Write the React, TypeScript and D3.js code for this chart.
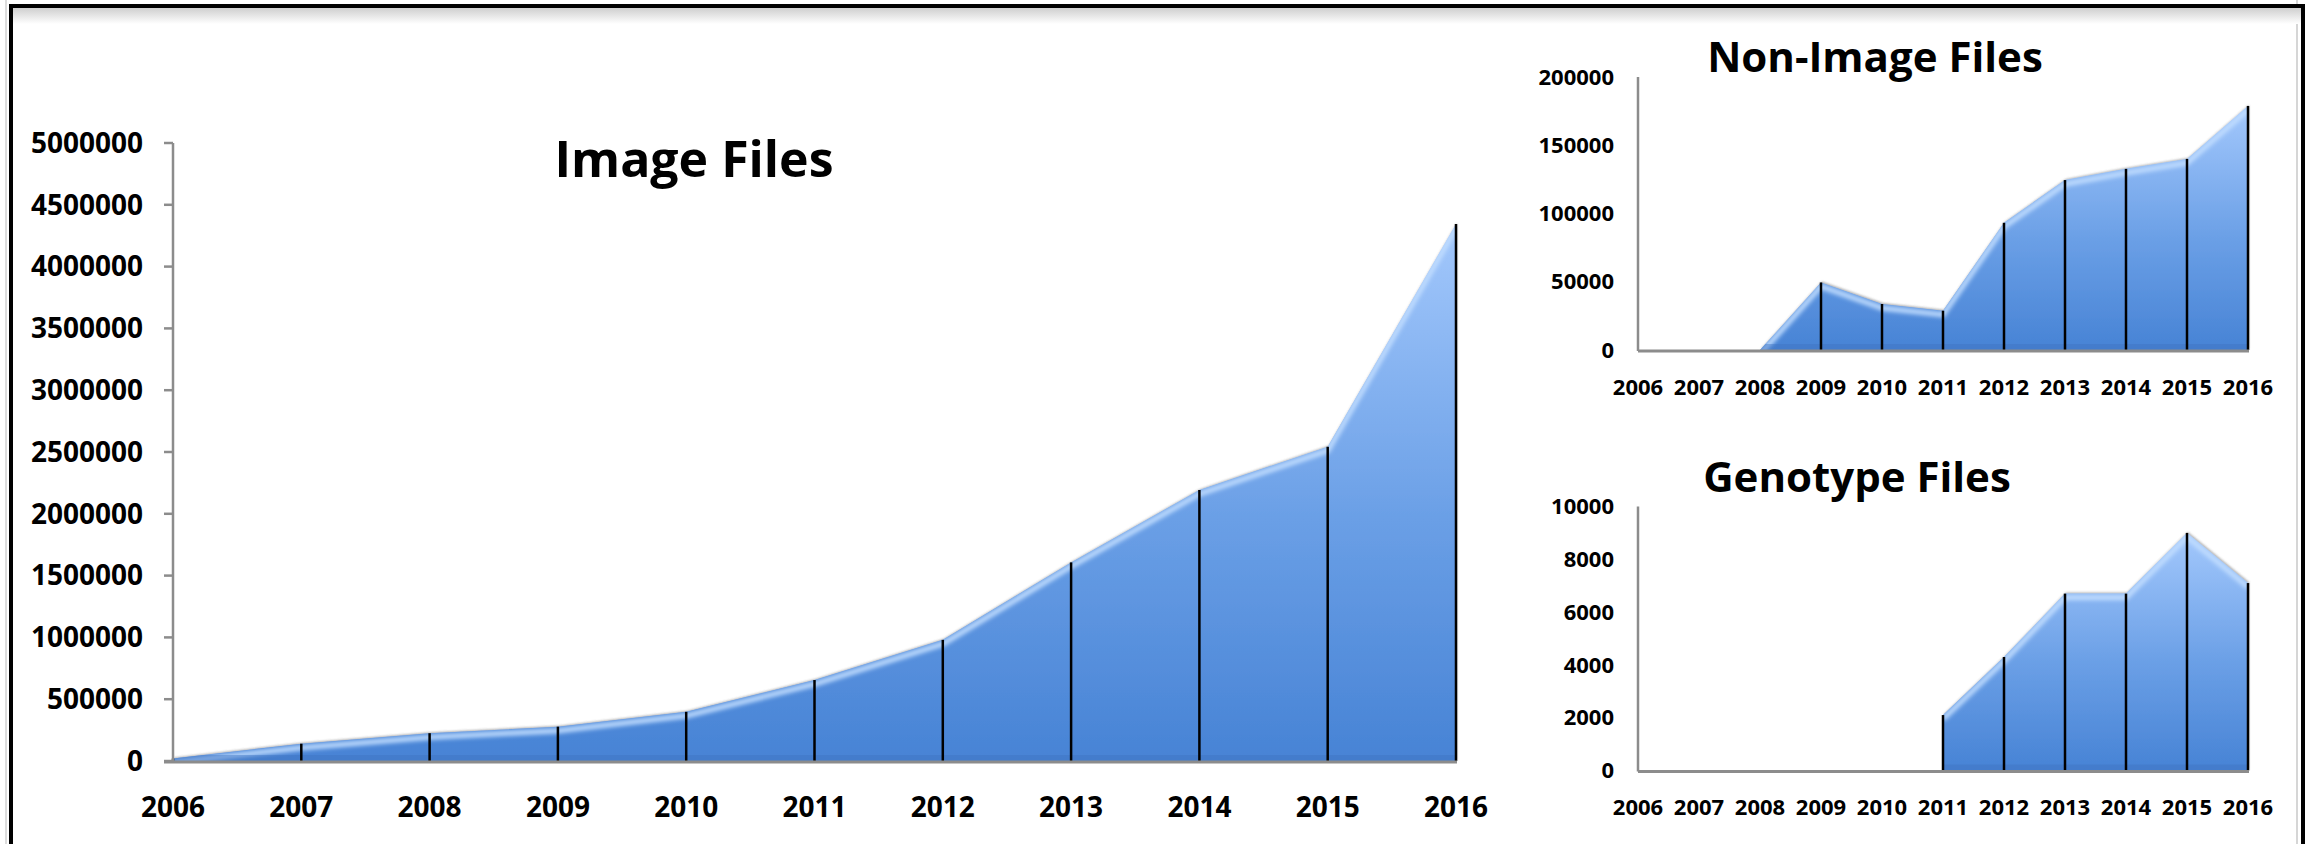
import React from 'react';
import * as d3 from 'd3';

// years on the category axis
const years = [2006, 2007, 2008, 2009, 2010, 2011, 2012, 2013, 2014, 2015, 2016];

// series values
const imageFiles: (number | null)[] = [20000, 140000, 225000, 278000, 398000, 655000, 980000, 1607000, 2193000, 2543000, 4345000];
const nonImageFiles: (number | null)[] = [0, 0, 0, 49500, 33700, 28800, 93200, 124500, 132700, 140000, 178800];
const genotypeFiles: (number | null)[] = [null, null, null, null, null, 2100, 4300, 6700, 6700, 9000, 7100];

// tick labels
const imageTicks = [0, 500000, 1000000, 1500000, 2000000, 2500000, 3000000, 3500000, 4000000, 4500000, 5000000];
const nonImageTicks = [0, 50000, 100000, 150000, 200000];
const genotypeTicks = [0, 2000, 4000, 6000, 8000, 10000];

const FONT = "'Open Sans', 'Liberation Sans', Arial, sans-serif";

interface PanelProps {
  id: string;
  title: string;
  values: (number | null)[];
  ticks: number[];
  left: number;
  right: number;
  top: number;
  bottom: number;
  titleX: number;
  titleY: number;
  titleSize: number;
  tickSize: number;
  yLabelGap: number;
  xLabelY: number;
  tickMarks: boolean;
}

const Panel = (p: PanelProps) => {
  const x = d3.scaleLinear().domain([years[0], years[years.length - 1]]).range([p.left, p.right]);
  const y = d3.scaleLinear().domain([0, d3.max(p.ticks) || 1]).range([p.bottom, p.top]);

  const pts = years.map((yr, i) => ({ yr, v: p.values[i] }));
  const area = d3.area<{ yr: number; v: number | null }>()
    .defined(d => d.v !== null)
    .x(d => x(d.yr))
    .y0(y(0))
    .y1(d => y(d.v as number));
  const line = d3.line<{ yr: number; v: number | null }>()
    .defined(d => d.v !== null)
    .x(d => x(d.yr))
    .y(d => y(d.v as number));

  const areaPath = area(pts) || '';
  const linePath = line(pts) || '';

  return (
    <g>
      <defs>
        <linearGradient id={`grad-${p.id}`} x1="0" y1="0" x2="0" y2="1">
          <stop offset="0%" stopColor="#a3c8fc" />
          <stop offset="55%" stopColor="#6a9fe6" />
          <stop offset="100%" stopColor="#4783d5" />
        </linearGradient>
        <clipPath id={`clip-${p.id}`}>
          <path d={areaPath} />
        </clipPath>
      </defs>

      {/* area */}
      <path d={areaPath} fill={`url(#grad-${p.id})`} filter="url(#shadow)" />
      <g clipPath={`url(#clip-${p.id})`}>
        <path d={linePath} transform="translate(0,4)" fill="none" stroke="#c2deff" strokeWidth={5} filter="url(#soft)" />
        <rect x={p.left} y={p.bottom - 6} width={p.right - p.left} height={6} fill="#3f74c0" opacity={0.45} />
      </g>

      {/* drop lines */}
      {pts.filter(d => d.v !== null && (d.v as number) > 0).map(d => (
        <line key={d.yr} x1={x(d.yr)} x2={x(d.yr)} y1={y(d.v as number)} y2={y(0)} stroke="#000" strokeWidth={2.5} />
      ))}

      {/* axes */}
      <line x1={p.left} x2={p.left} y1={p.top} y2={p.bottom + 1} stroke="#8c8c8c" strokeWidth={2.5} />
      <line x1={p.tickMarks ? p.left - 9 : p.left} x2={p.right + 1} y1={p.bottom + 1} y2={p.bottom + 1} stroke="#8c8c8c" strokeWidth={3} />
      {p.tickMarks && p.ticks.map(t => (
        <line key={t} x1={p.left - 9} x2={p.left} y1={y(t)} y2={y(t)} stroke="#8c8c8c" strokeWidth={2.5} />
      ))}

      {p.ticks.map(t => (
        <text key={t} x={p.left - p.yLabelGap} y={y(t)} dy="0.35em" textAnchor="end"
          fontFamily={FONT} fontWeight="bold" fontSize={p.tickSize} fill="#000">{t}</text>
      ))}
      {years.map(yr => (
        <text key={yr} x={x(yr)} y={p.xLabelY} textAnchor="middle"
          fontFamily={FONT} fontWeight="bold" fontSize={p.tickSize} fill="#000">{yr}</text>
      ))}

      <text x={p.titleX} y={p.titleY} textAnchor="middle" fontFamily={FONT} fontWeight="bold"
        fontSize={p.titleSize} fill="#000">{p.title}</text>
    </g>
  );
};

const App = () => {
  return (
    <svg width={2310} height={844} style={{ position: 'absolute', left: 0, top: 0, background: '#fff' }}>
      <defs>
        <filter id="shadow" x="-5%" y="-5%" width="110%" height="110%">
          <feDropShadow dx="1" dy="-1" stdDeviation="1.2" floodColor="#555" floodOpacity="0.45" />
        </filter>
        <filter id="soft" x="-5%" y="-20%" width="110%" height="140%">
          <feGaussianBlur stdDeviation="2" />
        </filter>
        <linearGradient id="topShade" x1="0" y1="0" x2="0" y2="1">
          <stop offset="0%" stopColor="#cfcfcf" />
          <stop offset="100%" stopColor="#ffffff" />
        </linearGradient>
      </defs>

      {/* frame */}
      <line x1={6} x2={6} y1={0} y2={844} stroke="#d0d0d0" strokeWidth={1.5} />
      <line x1={2297} x2={2297} y1={0} y2={844} stroke="#c8c8c8" strokeWidth={1.5} />
      <rect x={12} y={8} width={2289} height={16} fill="url(#topShade)" />
      <rect x={11} y={6} width={2292} height={900} fill="none" stroke="#000" strokeWidth={4} />

      <Panel id="img" title="Image Files" values={imageFiles} ticks={imageTicks}
        left={173} right={1456} top={143} bottom={761}
        titleX={694} titleY={177} titleSize={50} tickSize={28} yLabelGap={30} xLabelY={817} tickMarks={true} />
      <Panel id="non" title="Non-Image Files" values={nonImageFiles} ticks={nonImageTicks}
        left={1638} right={2248} top={77} bottom={350}
        titleX={1875} titleY={72} titleSize={42} tickSize={22} yLabelGap={24} xLabelY={395} tickMarks={false} />
      <Panel id="gen" title="Genotype Files" values={genotypeFiles} ticks={genotypeTicks}
        left={1638} right={2248} top={506.5} bottom={770.5}
        titleX={1857} titleY={492} titleSize={42} tickSize={22} yLabelGap={24} xLabelY={815} tickMarks={false} />
    </svg>
  );
};

export default App;
